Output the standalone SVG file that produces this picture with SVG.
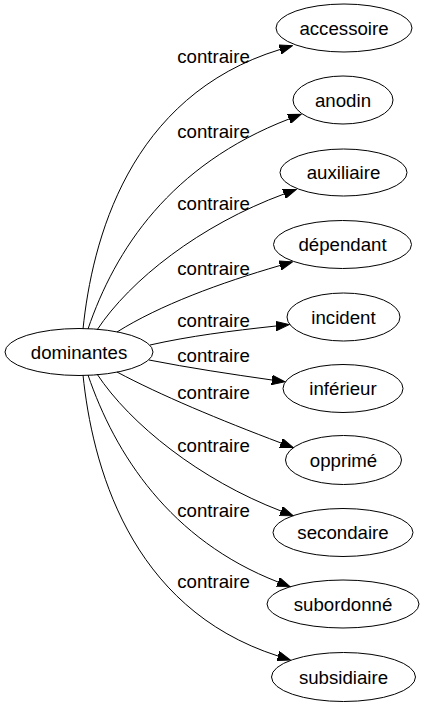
<svg xmlns="http://www.w3.org/2000/svg" width="425" height="707" viewBox="0 0 425 707">
<style>
.n ellipse{fill:none;stroke:#000;stroke-width:1}
text{font-family:"Liberation Sans",Arial,sans-serif;font-size:18.67px;fill:#000;text-anchor:middle}
.e path{fill:none;stroke:#000;stroke-width:1}
</style>
<defs>
<marker id="ah" markerUnits="userSpaceOnUse" markerWidth="14" markerHeight="10" refX="0" refY="4.7" orient="auto" viewBox="0 0 14 9.4">
<path d="M0,0 L13,4.7 L0,9.4 Z" fill="#000" stroke="#000" stroke-width="1"/>
</marker>
</defs>
<rect width="425" height="707" fill="#fff"/>
<g id="edges" class="e">
<path marker-end="url(#ah)" d="M83,329 C92,242 128,96 280,49.5"/>
<path marker-end="url(#ah)" d="M88,329 C115,250 170,165 289,119"/>
<path marker-end="url(#ah)" d="M97,330 C130,280 200,225 284,194"/>
<path marker-end="url(#ah)" d="M117,332 C160,305 220,283 280,265.5"/>
<path marker-end="url(#ah)" d="M150,345 C190,336 230,331 276,326"/>
<path marker-end="url(#ah)" d="M149,360 C190,368 230,374 272,380"/>
<path marker-end="url(#ah)" d="M117,372 C160,395 220,420 281,443"/>
<path marker-end="url(#ah)" d="M97,374 C130,424 200,480 281,511"/>
<path marker-end="url(#ah)" d="M88,375 C115,454 170,540 278,582"/>
<path marker-end="url(#ah)" d="M83,375 C92,462 128,608 278,656"/>
<text x="213.5" y="63">contraire</text>
<text x="213.5" y="138">contraire</text>
<text x="213.5" y="210">contraire</text>
<text x="213.5" y="275">contraire</text>
<text x="213.5" y="327">contraire</text>
<text x="213.5" y="362">contraire</text>
<text x="213.5" y="399">contraire</text>
<text x="213.5" y="452">contraire</text>
<text x="213.5" y="517">contraire</text>
<text x="213.5" y="588">contraire</text>
</g>
<g id="dominantes" class="n"><ellipse cx="79" cy="352" rx="74" ry="23.5"/><text x="79" y="358.5">dominantes</text></g>
<g id="accessoire" class="n"><ellipse cx="344" cy="28" rx="68" ry="24"/><text x="344" y="34.5">accessoire</text></g>
<g id="anodin" class="n"><ellipse cx="343" cy="100" rx="50" ry="24"/><text x="343" y="106.5">anodin</text></g>
<g id="auxiliaire" class="n"><ellipse cx="343.5" cy="172.5" rx="63.5" ry="23.5"/><text x="343.5" y="179">auxiliaire</text></g>
<g id="dependant" class="n"><ellipse cx="342.5" cy="244.5" rx="69" ry="24"/><text x="342.5" y="251">dépendant</text></g>
<g id="incident" class="n"><ellipse cx="343.5" cy="317" rx="56.5" ry="24"/><text x="343.5" y="323.5">incident</text></g>
<g id="inferieur" class="n"><ellipse cx="343" cy="388.5" rx="60" ry="24"/><text x="343" y="395">inférieur</text></g>
<g id="opprime" class="n"><ellipse cx="343.5" cy="460" rx="58" ry="24.5"/><text x="343.5" y="466.5">opprimé</text></g>
<g id="secondaire" class="n"><ellipse cx="343" cy="532.5" rx="70" ry="24"/><text x="343" y="539">secondaire</text></g>
<g id="subordonne" class="n"><ellipse cx="343" cy="604" rx="76" ry="24"/><text x="343" y="610.5">subordonné</text></g>
<g id="subsidiaire" class="n"><ellipse cx="343.5" cy="677" rx="72" ry="24.5"/><text x="343.5" y="683.5">subsidiaire</text></g>
</svg>
